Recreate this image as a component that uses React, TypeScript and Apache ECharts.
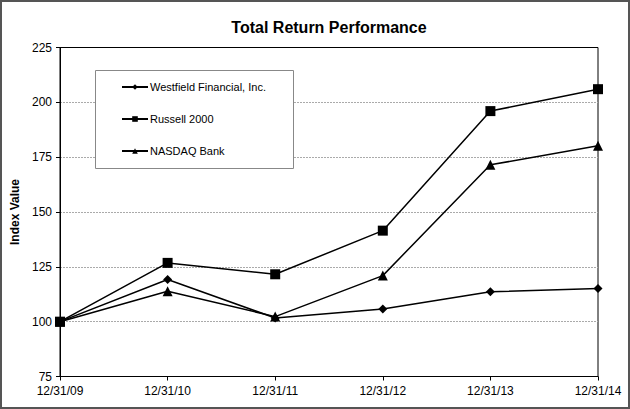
import React, { useEffect, useRef } from "react";
import * as echarts from "echarts";

const categories = ["12/31/09", "12/31/10", "12/31/11", "12/31/12", "12/31/13", "12/31/14"];
const westfield = [100, 119.2, 101.7, 105.8, 113.6, 115.1];
const russell = [100, 126.8, 121.6, 141.5, 196.0, 206.0];
const nasdaqBank = [100, 113.9, 102.3, 121.0, 171.5, 180.2];
const yTicks = { min: 75, max: 225, interval: 25 };

const FONT = "'Liberation Sans', Arial, sans-serif";

export default function App() {
  const ref = useRef<HTMLDivElement>(null);
  useEffect(() => {
    if (!ref.current) return;
    const chart = echarts.init(ref.current, undefined, { renderer: "svg" });
    const mk = (name: string, data: number[], symbol: string, size: number) => ({
      name,
      type: "line",
      data,
      symbol,
      symbolSize: size,
      showAllSymbol: true,
      lineStyle: { color: "#000", width: 1.5 },
      itemStyle: { color: "#000", borderWidth: 0 },
      z: 3,
    });
    chart.setOption({
      animation: false,
      backgroundColor: "#fff",
      textStyle: { fontFamily: FONT },
      title: {
        text: "Total Return Performance",
        left: 324,
        textAlign: "center",
        top: 14,
        textStyle: { fontFamily: FONT, fontSize: 16, fontWeight: "bold", color: "#000" },
      },
      grid: {
        left: 60,
        right: 32,
        top: 47.5,
        bottom: 32.5,
        show: true,
        borderColor: "#000",
        borderWidth: 1,
        backgroundColor: "transparent",
      },
      legend: {
        orient: "vertical",
        left: 121,
        top: 80,
        z: 20,
        itemWidth: 26,
        itemHeight: 7,
        itemGap: 18,
        padding: 0,
        textStyle: { fontFamily: FONT, fontSize: 11, color: "#000", lineHeight: 14, padding: [0, 0, 0, -3] },
        data: ["Westfield Financial, Inc.", "Russell 2000", "NASDAQ Bank"],
      },
      graphic: [
        {
          type: "rect",
          shape: { x: 1, y: 1, width: 628, height: 407 },
          style: { fill: "none", stroke: "#555", lineWidth: 2 },
          silent: true,
          z: 100,
        },
        {
          type: "rect",
          shape: { x: 95.5, y: 70.5, width: 198, height: 98 },
          style: { fill: "#fff", stroke: "#888", lineWidth: 1 },
          silent: true,
          z: 5,
        },
      ],
      xAxis: {
        type: "category",
        data: categories,
        boundaryGap: false,
        axisLine: { lineStyle: { color: "#000", width: 1 } },
        axisTick: { alignWithLabel: true, length: 4, lineStyle: { color: "#000" } },
        axisLabel: { fontFamily: FONT, fontSize: 12, color: "#000", margin: 8, interval: 0 },
        splitLine: { show: false },
      },
      yAxis: {
        type: "value",
        min: yTicks.min,
        max: yTicks.max,
        interval: yTicks.interval,
        name: "Index Value",
        nameLocation: "middle",
        nameGap: 39,
        nameTextStyle: { fontFamily: FONT, fontSize: 12, fontWeight: "bold", color: "#000" },
        axisLine: { show: true, lineStyle: { color: "#000", width: 1 } },
        axisTick: { show: true, length: 4, lineStyle: { color: "#000" } },
        axisLabel: { fontFamily: FONT, fontSize: 12, color: "#000", margin: 8 },
        splitLine: {
          show: true,
          showMaxLine: false,
          showMinLine: false,
          lineStyle: { color: "#aaa", type: [2, 1], width: 1 },
        },
      },
      series: [
        mk("Westfield Financial, Inc.", westfield, "diamond", 9),
        mk("Russell 2000", russell, "rect", 10),
        mk("NASDAQ Bank", nasdaqBank, "triangle", 10),
      ],
    });
    return () => chart.dispose();
  }, []);
  return (
    <div
      ref={ref}
      style={{ position: "absolute", left: 0, top: 0, width: 630, height: 409 }}
    />
  );
}
